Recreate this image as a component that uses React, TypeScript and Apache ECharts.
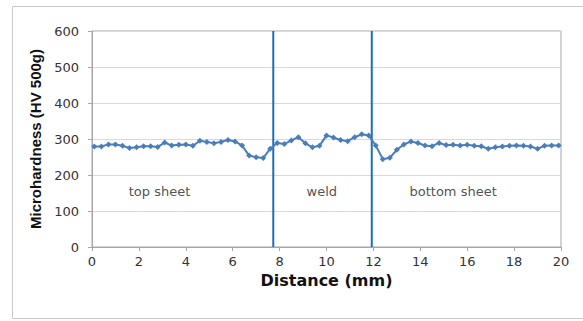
import React, { useEffect, useRef } from "react";
import * as echarts from "echarts";

const distances = [
  0.1, 0.4, 0.7, 1.0, 1.3, 1.6, 1.9, 2.2, 2.5, 2.8, 3.1, 3.4, 3.7, 4.0, 4.3, 4.6, 4.9,
  5.2, 5.5, 5.8, 6.1, 6.4, 6.7, 7.0, 7.3, 7.6, 7.9, 8.2, 8.5, 8.8, 9.1, 9.4, 9.7, 10.0,
  10.3, 10.6, 10.9, 11.2, 11.5, 11.8, 12.1, 12.4, 12.7, 13.0, 13.3, 13.6, 13.9, 14.2,
  14.5, 14.8, 15.1, 15.4, 15.7, 16.0, 16.3, 16.6, 16.9, 17.2, 17.5, 17.8, 18.1, 18.4,
  18.7, 19.0, 19.3, 19.6, 19.9,
];
const hardness = [
  279, 279, 285, 285, 281, 275, 277, 280, 280, 278, 290, 282, 284, 285, 281, 295, 292,
  288, 292, 297, 293, 282, 254, 249, 247, 273, 289, 286, 296, 305, 288, 277, 281, 310,
  304, 297, 294, 305, 313, 310, 282, 244, 248, 270, 285, 293, 289, 282,
  280, 289, 283, 284, 282, 284, 281, 280, 273, 277, 279, 281, 282, 281,
  279, 273, 281, 282, 282,
];
const boundaries = [7.73, 11.93];
const regionNames = ["top sheet", "weld", "bottom sheet"];
const regionX = [2.88, 9.8, 15.4];
const regionY = [153, 153, 153];

export default function App() {
  const ref = useRef<HTMLDivElement>(null);
  useEffect(() => {
    if (!ref.current) return;
    const chart = echarts.init(ref.current, undefined, { renderer: "svg" });
    const boundarySeries = boundaries.map((b) => ({
      type: "line",
      data: [
        [b, 0],
        [b, 600],
      ],
      symbol: "none",
      lineStyle: { color: "#1f6fb5", width: 2 },
      silent: true,
      z: 1,
    }));
    chart.setOption({
      animation: false,
      graphic: [
        {
          type: "rect",
          shape: { x: 12.5, y: 6.5, width: 600, height: 312 },
          style: { fill: "none", stroke: "#c8c8c8", lineWidth: 1 },
          silent: true,
        },
      ],
      grid: {
        left: 92,
        right: 22,
        top: 31,
        bottom: 74,
        show: true,
        borderColor: "#a6a6a6",
        borderWidth: 1,
      },
      xAxis: {
        type: "value",
        min: 0,
        max: 20,
        interval: 2,
        name: "Distance (mm)",
        nameLocation: "middle",
        nameGap: 25,
        nameTextStyle: {
          fontFamily: "DejaVu Sans",
          fontWeight: "bold",
          fontSize: 16,
          color: "#111",
        },
        axisLine: { show: true, lineStyle: { color: "#a6a6a6" } },
        axisTick: { show: true, length: 4, lineStyle: { color: "#a6a6a6" } },
        axisLabel: { fontFamily: "DejaVu Sans", fontSize: 13, color: "#333", margin: 8 },
        splitLine: { show: false },
      },
      yAxis: {
        type: "value",
        min: 0,
        max: 600,
        interval: 100,
        name: "Microhardness (HV 500g)",
        nameLocation: "middle",
        nameGap: 45,
        nameTextStyle: {
          fontFamily: "Liberation Sans",
          fontWeight: "bold",
          fontSize: 15,
          color: "#111",
        },
        axisLine: { show: true, lineStyle: { color: "#a6a6a6" } },
        axisTick: { show: true, length: 4, lineStyle: { color: "#a6a6a6" } },
        axisLabel: { fontFamily: "DejaVu Sans", fontSize: 13, color: "#333", margin: 13 },
        splitLine: { show: true, lineStyle: { color: "#d9d9d9", width: 1 } },
      },
      series: [
        ...boundarySeries,
        {
          type: "line",
          data: distances.map((d, i) => [d, hardness[i]]),
          symbol: "diamond",
          symbolSize: 6,
          itemStyle: { color: "#4a7ebb" },
          lineStyle: { color: "#4a7ebb", width: 2 },
          z: 3,
        },
        {
          type: "scatter",
          data: regionNames.map((n, i) => ({ name: n, value: [regionX[i], regionY[i]] })),
          symbolSize: 0,
          silent: true,
          label: {
            show: true,
            position: "inside",
            formatter: (p: any) => p.name,
            fontFamily: "DejaVu Sans",
            fontSize: 13,
            color: "#222",
          },
        },
      ],
    });
    return () => chart.dispose();
  }, []);
  return (
    <div
      ref={ref}
      style={{ position: "fixed", left: 0, top: 0, width: 583, height: 321, background: "#fff" }}
    />
  );
}
